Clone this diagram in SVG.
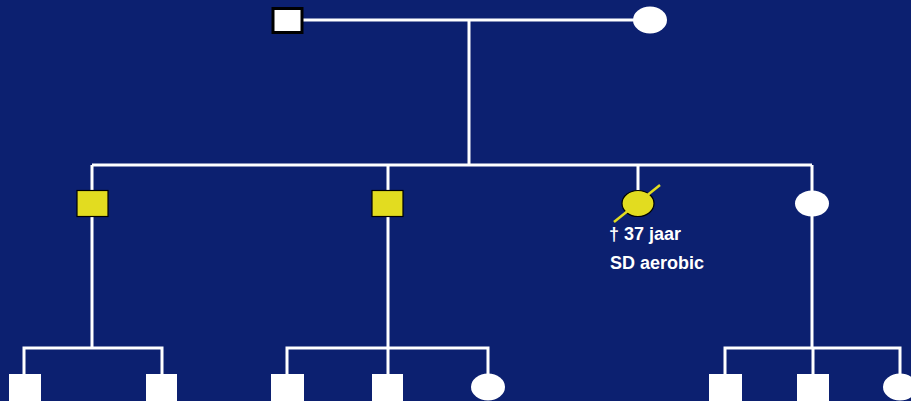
<svg xmlns="http://www.w3.org/2000/svg" width="911" height="401" viewBox="0 0 911 401">
<style>
.ln{stroke:#fff;stroke-width:3;fill:none}
.w{fill:#fff}
.y{fill:#E2DC20;stroke:#000;stroke-width:1.2}
.t{font-family:"Liberation Sans",Arial,sans-serif;font-size:18px;font-weight:bold;fill:#fff}
</style>
<rect width="911" height="401" fill="#0C2070"/>
<g id="connectors">
<path class="ln" d="M302 20H634"/>
<path class="ln" d="M469 20V165"/>
<path class="ln" d="M92 165H812"/>
<path class="ln" d="M92 165V348M388 165V348M638 165V191M812 165V348"/>
<path class="ln" d="M24 374V348H162V374M92 348"/>
<path class="ln" d="M287 374V348H488V374M388 348V374"/>
<path class="ln" d="M725 374V348H900V374M813 348V374"/>
</g>
<g id="father"><rect x="273" y="8.5" width="29" height="24" fill="#fff" stroke="#000" stroke-width="3"/></g>
<g id="mother"><ellipse class="w" cx="650" cy="20" rx="17" ry="13.5"/></g>
<g id="son1"><rect class="y" x="77" y="190.5" width="31" height="26"/></g>
<g id="son2"><rect class="y" x="372" y="190.5" width="31" height="26"/></g>
<g id="daughter1">
<ellipse class="y" cx="638" cy="203.5" rx="16" ry="13"/>
<line x1="614" y1="222" x2="660" y2="185" stroke="#E2DC20" stroke-width="2.5"/>
<text class="t" x="609" y="240">† 37 jaar</text>
<text class="t" x="610" y="269">SD aerobic</text>
</g>
<g id="daughter2"><ellipse class="w" cx="812" cy="203.5" rx="17" ry="13"/></g>
<g id="gc1"><rect class="w" x="9" y="374" width="32" height="27"/></g>
<g id="gc2"><rect class="w" x="146" y="374" width="31" height="27"/></g>
<g id="gc3"><rect class="w" x="271" y="374" width="33" height="27"/></g>
<g id="gc4"><rect class="w" x="372" y="374" width="31" height="27"/></g>
<g id="gc5"><ellipse class="w" cx="488" cy="387" rx="17" ry="13.5"/></g>
<g id="gc6"><rect class="w" x="709" y="374" width="33" height="27"/></g>
<g id="gc7"><rect class="w" x="797" y="374" width="32" height="27"/></g>
<g id="gc8"><ellipse class="w" cx="900" cy="387" rx="17" ry="13.5"/></g>
</svg>
